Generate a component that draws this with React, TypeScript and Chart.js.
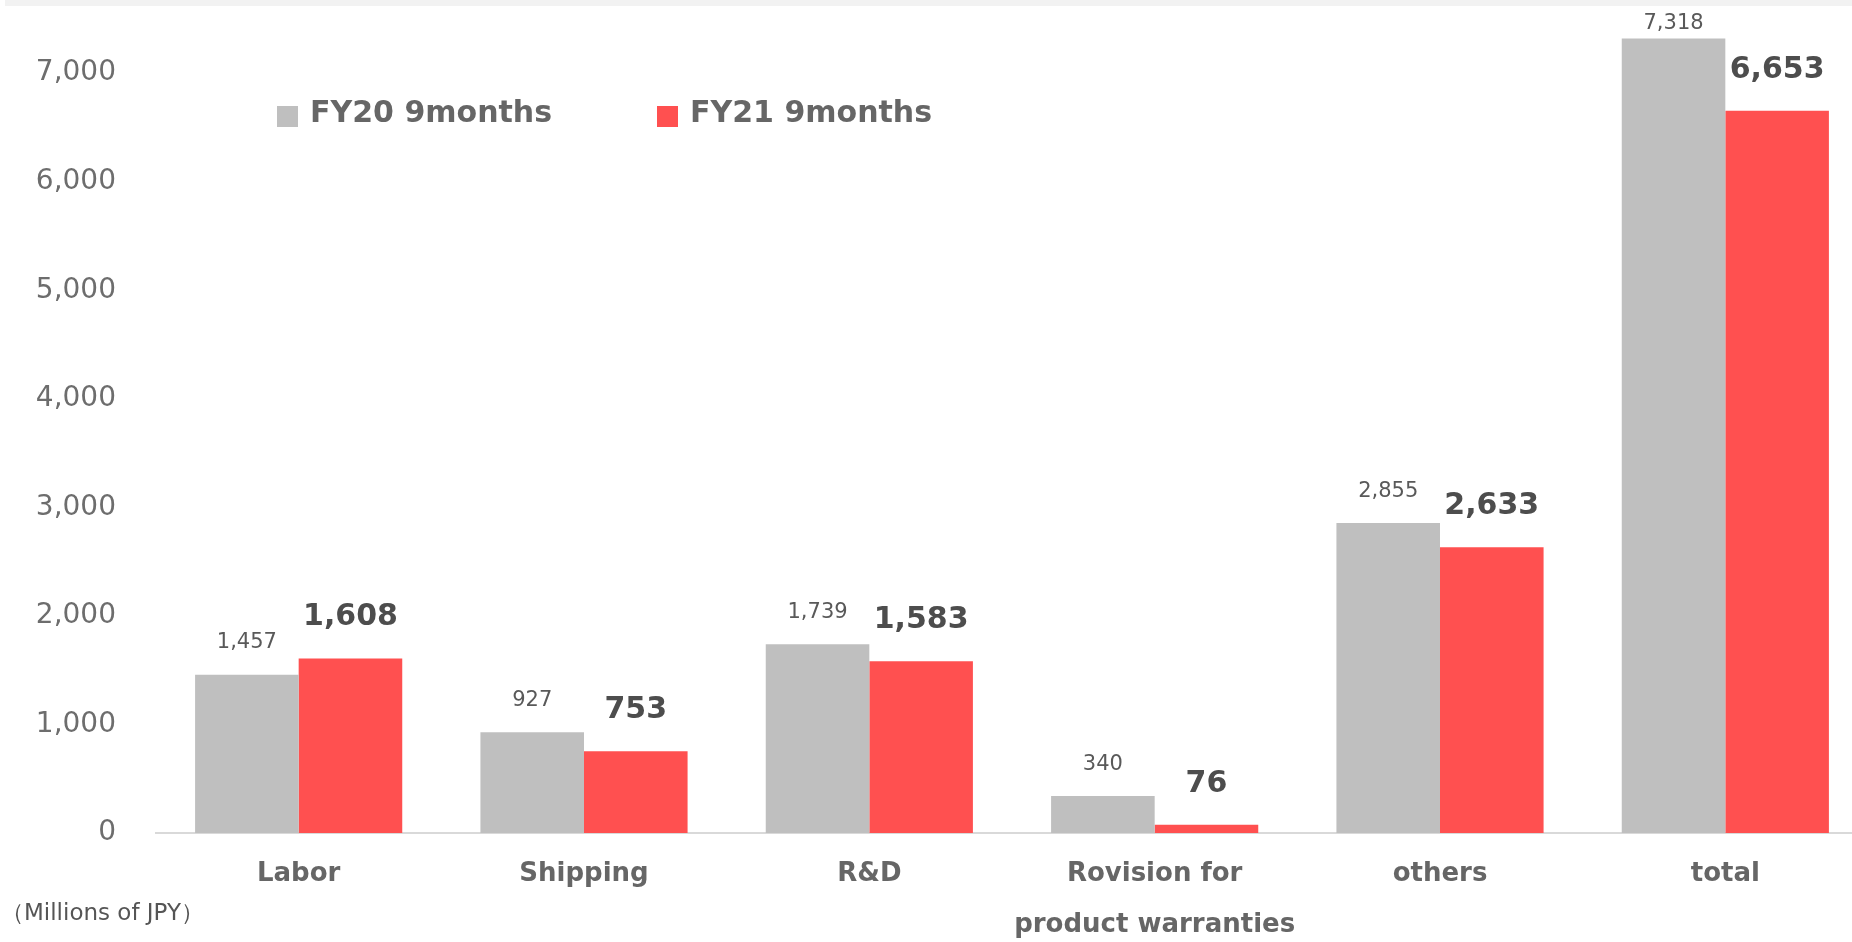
import React, { useEffect, useRef } from 'react';
import { Chart, registerables } from 'chart.js';

Chart.register(...registerables);

const categories: (string | string[])[] = [
  'Labor',
  'Shipping',
  'R&D',
  ['Rovision for', 'product warranties'],
  'others',
  'total',
];
const fy20Values = [1457, 927, 1739, 340, 2855, 7318];
const fy21Values = [1608, 753, 1583, 76, 2633, 6653];
const seriesLabels = ['FY20 9months', 'FY21 9months'];
const seriesColors = ['#bfbfbf', '#ff5050'];
const yTickValues = [0, 1000, 2000, 3000, 4000, 5000, 6000, 7000];
const unitLabel = '（Millions of JPY）';

const FONT = '"DejaVu Sans", Verdana, sans-serif';

const fmt = (v: number) => v.toLocaleString('en-US');

const valueLabelsPlugin = {
  id: 'valueLabels',
  afterDatasetsDraw(chart: any) {
    const ctx = chart.ctx;
    ctx.save();
    ctx.textAlign = 'center';
    ctx.textBaseline = 'middle';
    chart.data.datasets.forEach((ds: any, di: number) => {
      const meta = chart.getDatasetMeta(di);
      meta.data.forEach((el: any, i: number) => {
        const txt = fmt(ds.data[i]);
        if (di === 0) {
          ctx.font = `400 21px ${FONT}`;
          ctx.fillStyle = '#595959';
          ctx.fillText(txt, el.x, Math.max(el.y - 32, 24));
        } else {
          ctx.font = `700 30px ${FONT}`;
          ctx.fillStyle = '#4d4d4d';
          ctx.fillText(txt, el.x, el.y - 41);
        }
      });
    });
    ctx.restore();
  },
};

const legendPlugin = {
  id: 'customLegend',
  afterDraw(chart: any) {
    const ctx = chart.ctx;
    const starts = [277, 657];
    ctx.save();
    ctx.textAlign = 'left';
    ctx.textBaseline = 'middle';
    ctx.font = `700 30px ${FONT}`;
    chart.data.datasets.forEach((ds: any, di: number) => {
      const x = starts[di];
      ctx.fillStyle = ds.backgroundColor;
      ctx.fillRect(x, 106, 21, 21);
      ctx.fillStyle = '#666666';
      ctx.fillText(ds.label, x + 33, 114);
    });
    ctx.restore();
  },
};

const unitPlugin = {
  id: 'unitLabel',
  afterDraw(chart: any) {
    const ctx = chart.ctx;
    ctx.save();
    ctx.textAlign = 'left';
    ctx.textBaseline = 'middle';
    ctx.font = `400 23px ${FONT}`;
    ctx.fillStyle = '#555555';
    ctx.fillText(unitLabel, 1, 914);
    ctx.restore();
  },
};

export default function App() {
  const canvasRef = useRef<HTMLCanvasElement | null>(null);

  useEffect(() => {
    if (!canvasRef.current) return;
    const chart = new Chart(canvasRef.current, {
      type: 'bar',
      data: {
        labels: categories as any,
        datasets: [
          {
            label: seriesLabels[0],
            data: fy20Values,
            backgroundColor: seriesColors[0],
            categoryPercentage: 0.726,
            barPercentage: 1,
          },
          {
            label: seriesLabels[1],
            data: fy21Values,
            backgroundColor: seriesColors[1],
            categoryPercentage: 0.726,
            barPercentage: 1,
          },
        ],
      },
      options: {
        animation: false,
        responsive: false,
        maintainAspectRatio: false,
        layout: { padding: { top: 8, right: 4, left: 0, bottom: 0 } },
        plugins: {
          legend: { display: false },
          tooltip: { enabled: false },
        },
        scales: {
          x: {
            grid: { display: true, drawOnChartArea: false, drawTicks: false, color: 'rgba(0,0,0,0)' },
            border: { display: true, color: '#d9d9d9', width: 2 },
            ticks: {
              color: '#666666',
              font: { family: FONT, size: 26, weight: 'bold', lineHeight: 51 / 26 },
              padding: 16,
              maxRotation: 0,
              autoSkip: false,
            },
            afterFit: (s: any) => {
              s.height = 109;
            },
          },
          y: {
            min: 0,
            max: 7600,
            bounds: 'data',
            grid: { display: false, drawTicks: false },
            border: { display: false },
            ticks: {
              color: '#6d6d6d',
              font: { family: FONT, size: 28 },
              padding: 40,
              labelOffset: 0,
              callback: (v: any) => fmt(Number(v)),
            },
            afterDataLimits: (s: any) => {
              s.min = 0;
              s.max = 7600;
            },
            afterBuildTicks: (s: any) => {
              s.ticks = yTickValues.map((v) => ({ value: v }));
            },
            afterFit: (s: any) => {
              s.width = 156;
              s.paddingTop = 0;
              s.paddingBottom = 0;
            },
          },
        },
      } as any,
      plugins: [valueLabelsPlugin, legendPlugin, unitPlugin],
    });
    return () => chart.destroy();
  }, []);

  return (
    <div
      style={{
        position: 'fixed',
        top: 0,
        left: 0,
        width: 1852,
        height: 942,
        overflow: 'hidden',
        background: '#ffffff',
      }}
    >
      <div
        style={{
          position: 'absolute',
          top: 0,
          left: 5,
          width: 1847,
          height: 6,
          background: '#f2f2f2',
        }}
      />
      <canvas
        ref={canvasRef}
        width={1872}
        height={942}
        style={{ position: 'absolute', top: 0, left: 0, width: 1872, height: 942 }}
      />
    </div>
  );
}
